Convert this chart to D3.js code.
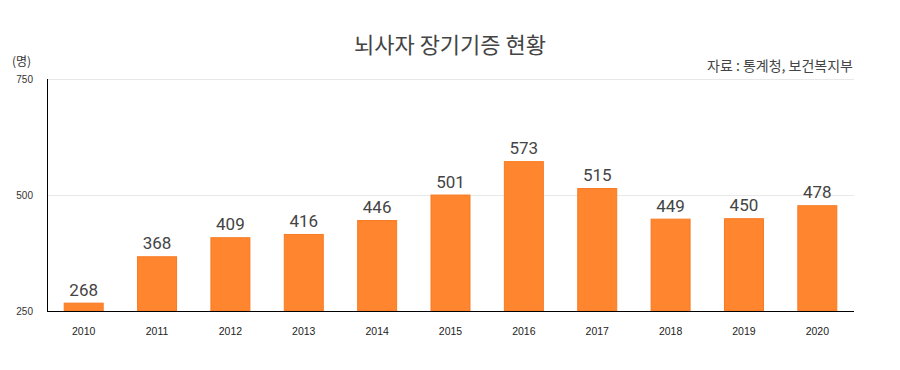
<!DOCTYPE html>
<html><head><meta charset="utf-8">
<script src="https://cdn.jsdelivr.net/npm/d3@7"></script>
<style>body{margin:0;background:#fff;} svg{display:block;}</style>
</head><body>
<script>
const years = ["2010","2011","2012","2013","2014","2015","2016","2017","2018","2019","2020"];
const values = [268,368,409,416,446,501,573,515,449,450,478];
const yTicks = [250,500,750];
const title = "뇌사자 장기기증 현황";
const source = "자료 : 통계청, 보건복지부";
const unit = "(명)";

const W=900,H=370;
const m={left:47,right:46,top:79,bottom:59};
const svg=d3.select("body").append("svg").attr("width",W).attr("height",H);
const x=d3.scaleBand().domain(years).range([m.left,W-m.right]).paddingInner(0.455).paddingOuter(0.2275);
const y=d3.scaleLinear().domain([250,750]).range([H-m.bottom,m.top]);
const font="'Noto Sans CJK KR','Noto Sans',sans-serif";

svg.append("text").attr("x",450).attr("y",53).attr("text-anchor","middle")
  .attr("font-family",font).attr("font-size",22).attr("fill","#444").text(title);
svg.append("text").attr("x",853).attr("y",71).attr("text-anchor","end")
  .attr("font-family",font).attr("font-size",14).attr("fill","#444").text(source);
svg.append("text").attr("x",12).attr("y",66)
  .attr("font-family",font).attr("font-size",12).attr("fill","#333").text(unit);

// grid
svg.append("g").selectAll("line").data(yTicks.slice(1)).join("line")
  .attr("x1",m.left).attr("x2",W-m.right).attr("y1",d=>y(d)+0.5).attr("y2",d=>y(d)+0.5)
  .attr("stroke","#e8e8e8");
// y labels
svg.append("g").selectAll("text").data(yTicks).join("text")
  .attr("x",33).attr("y",d=>y(d)+4).attr("text-anchor","end")
  .attr("font-family","Arial, 'Liberation Sans', sans-serif").attr("font-size",10).attr("fill","#333").text(d=>d);

// bars
svg.append("g").selectAll("rect").data(values).join("rect")
  .attr("x",(d,i)=>x(years[i])+0.5).attr("width",x.bandwidth()-1)
  .attr("y",d=>y(d)+0.5).attr("height",d=>y(250)-y(d)-0.5)
  .attr("fill","#FF852F").attr("stroke","#F77B22").attr("stroke-width",1);

// value labels
svg.append("g").selectAll("text").data(values).join("text")
  .attr("x",(d,i)=>x(years[i])+x.bandwidth()/2).attr("y",d=>y(d)-7).attr("text-anchor","middle")
  .attr("font-family","Roboto, sans-serif").attr("font-size",17).attr("font-weight",400).attr("fill","#444").text(d=>d);

// axes lines
svg.append("line").attr("x1",m.left+0.5).attr("x2",m.left+0.5).attr("y1",m.top).attr("y2",y(250))
  .attr("stroke","#000");
svg.append("line").attr("x1",m.left).attr("x2",W-m.right).attr("y1",y(250)+0.5).attr("y2",y(250)+0.5)
  .attr("stroke","#000");

// x labels
svg.append("g").selectAll("text").data(years).join("text")
  .attr("x",d=>x(d)+x.bandwidth()/2).attr("y",335).attr("text-anchor","middle")
  .attr("font-family","Arial, 'Liberation Sans', sans-serif").attr("font-size",10.5).attr("fill","#222").text(d=>d);
</script>
</body></html>
